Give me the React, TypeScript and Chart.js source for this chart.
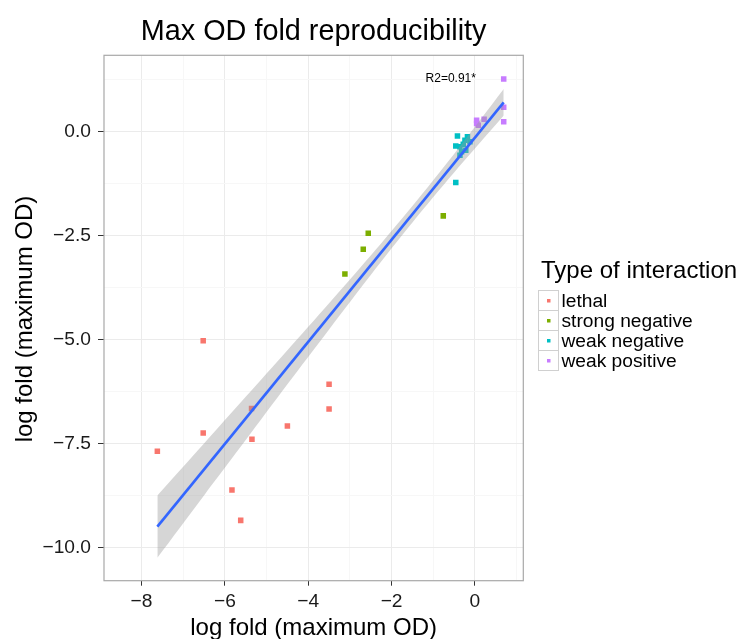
import React, { useEffect, useRef } from 'react';
import { Chart, registerables } from 'chart.js';

Chart.register(...registerables);

const FONT = '"Liberation Sans", Arial, Helvetica, sans-serif';

const chartTitle = 'Max OD fold reproducibility';
const xAxisTitle = 'log fold (maximum OD)';
const yAxisTitle = 'log fold (maximum OD)';
const legendTitle = 'Type of interaction';
const annotationText = 'R2=0.91*';
const annotationX = -0.58;
const annotationY = 1.27;

const categories = ['lethal', 'strong negative', 'weak negative', 'weak positive'];
const categoryColors = ['#F8766D', '#7CAE00', '#00BFC4', '#C77CFF'];

const lethalX = [-6.52, -3.5, -3.5, -5.36, -6.52, -4.5, -5.35, -7.62, -5.83, -5.62];
const lethalY = [-5.02, -6.07, -6.66, -6.65, -7.24, -7.07, -7.39, -7.68, -8.61, -9.34];

const strongNegX = [-2.56, -2.68, -3.12, -0.76];
const strongNegY = [-2.44, -2.82, -3.42, -2.02];

const weakNegX = [-0.42, -0.18, -0.46, -0.36, -0.28, -0.24, -0.32, -0.22, -0.36, -0.12, -0.46];
const weakNegY = [-0.1, -0.12, -0.34, -0.36, -0.3, -0.2, -0.48, -0.44, -0.56, -0.24, -1.22];

const weakPosX = [0.69, 0.69, 0.69, 0.04, 0.04, 0.08, 0.22];
const weakPosY = [1.27, 0.59, 0.24, 0.28, 0.2, 0.16, 0.3];

const fitX = [-7.62, 0.69];
const fitY = [-9.49, 0.71];

const bandX = [-7.62, -6.5, -5.5, -4.5, -3.5, -2.5, -1.5, -0.5, 0.69];
const bandUpper = [-8.74, -7.49, -6.37, -5.25, -4.12, -2.97, -1.78, -0.53, 1.03];
const bandLower = [-10.24, -8.74, -7.41, -6.07, -4.75, -3.44, -2.18, -0.98, 0.39];

const xMajorTicks = [-8, -6, -4, -2, 0];
const xMinorTicks = [-7, -5, -3, -1, 1];
const yMajorTicks = [-10, -7.5, -5, -2.5, 0];
const yMinorTicks = [-8.75, -6.25, -3.75, -1.25, 1.25];

const xMin = -8.9;
const xMax = 1.16;
const yMin = -10.79;
const yMax = 1.84;

const pts = (xs: number[], ys: number[]) => xs.map((x, i) => ({ x, y: ys[i] }));

const fmtMinus = (s: string) => s.replace('-', '\u2212');

const decorPlugin = {
  id: 'decor',
  afterDraw(chart: any) {
    const { ctx, chartArea: a } = chart;
    ctx.save();
    // panel border
    ctx.strokeStyle = '#A8A8A8';
    ctx.lineWidth = 1.2;
    ctx.strokeRect(a.left, a.top, a.right - a.left, a.bottom - a.top);

    ctx.fillStyle = '#000';
    // title
    ctx.font = `28.8px ${FONT}`;
    ctx.textAlign = 'center';
    ctx.textBaseline = 'alphabetic';
    ctx.fillText(chartTitle, (a.left + a.right) / 2, 40);

    // x axis title
    ctx.font = `24px ${FONT}`;
    ctx.fillText(xAxisTitle, (a.left + a.right) / 2, 634.5);

    // y axis title
    ctx.save();
    ctx.translate(32, (a.top + a.bottom) / 2 + 1);
    ctx.rotate(-Math.PI / 2);
    ctx.fillText(yAxisTitle, 0, 0);
    ctx.restore();

    // annotation
    const sx = chart.scales.x;
    const sy = chart.scales.y;
    ctx.font = `12px ${FONT}`;
    ctx.textBaseline = 'middle';
    ctx.fillText(annotationText, sx.getPixelForValue(annotationX), sy.getPixelForValue(annotationY));

    // legend
    ctx.textAlign = 'left';
    ctx.textBaseline = 'alphabetic';
    ctx.font = `24px ${FONT}`;
    ctx.fillText(legendTitle, 541, 277.7);
    const keyX = 538;
    const keyY = 290;
    const keySize = 20;
    categories.forEach((c, i) => {
      const y0 = keyY + i * keySize;
      ctx.fillStyle = '#FFFFFF';
      ctx.fillRect(keyX, y0, keySize, keySize);
      ctx.strokeStyle = '#D0D0D0';
      ctx.lineWidth = 1;
      ctx.strokeRect(keyX + 0.5, y0 + 0.5, keySize, keySize);
      ctx.fillStyle = categoryColors[i];
      ctx.fillRect(keyX + keySize / 2 - 1.5 + 0.5, y0 + keySize / 2 - 1.5 + 0.5, 3.5, 3.5);
      ctx.fillStyle = '#000';
      ctx.font = `19.2px ${FONT}`;
      ctx.fillText(c, 561.5, y0 + 16.7);
    });
    ctx.restore();
  },
};

export default function App() {
  const ref = useRef<HTMLCanvasElement | null>(null);

  useEffect(() => {
    if (!ref.current) return;
    const pointSets = [
      pts(lethalX, lethalY),
      pts(strongNegX, strongNegY),
      pts(weakNegX, weakNegY),
      pts(weakPosX, weakPosY),
    ];
    const gridColor = (ctx: any) => {
      const v = ctx.tick ? ctx.tick.value : null;
      const majors = ctx.scale.axis === 'x' ? xMajorTicks : yMajorTicks;
      return v !== null && majors.includes(v) ? '#EBEBEB' : '#F7F7F7';
    };
    const tickColor = (ctx: any) => {
      const v = ctx.tick ? ctx.tick.value : null;
      const majors = ctx.scale.axis === 'x' ? xMajorTicks : yMajorTicks;
      return v !== null && majors.includes(v) ? '#333333' : 'rgba(0,0,0,0)';
    };
    const chart = new Chart(ref.current, {
      type: 'scatter',
      data: {
        datasets: [
          {
            type: 'line',
            label: 'fit',
            data: pts(fitX, fitY),
            borderColor: '#3366FF',
            borderWidth: 2.6,
            pointRadius: 0,
            fill: false,
            order: 0,
          } as any,
          {
            type: 'line',
            label: 'band upper',
            data: pts(bandX, bandUpper),
            borderWidth: 0,
            borderColor: 'rgba(0,0,0,0)',
            backgroundColor: 'rgba(153,153,153,0.4)',
            pointRadius: 0,
            fill: '+1',
            tension: 0.3,
            order: 1,
          } as any,
          {
            type: 'line',
            label: 'band lower',
            data: pts(bandX, bandLower),
            borderWidth: 0,
            borderColor: 'rgba(0,0,0,0)',
            pointRadius: 0,
            fill: false,
            tension: 0.3,
            order: 1,
          } as any,
          ...categories.map((c, i) => ({
            label: c,
            data: pointSets[i],
            pointStyle: 'rect',
            pointRadius: 3.9,
            pointBorderWidth: 0,
            borderWidth: 0,
            backgroundColor: categoryColors[i],
            pointBackgroundColor: categoryColors[i],
            order: 2,
          })),
        ],
      },
      options: {
        responsive: false,
        animation: false,
        events: [],
        layout: { padding: { top: 55.3, right: 747 - 523.3, left: 0, bottom: 0 } },
        plugins: {
          legend: { display: false },
          tooltip: { enabled: false },
          title: { display: false },
        },
        scales: {
          x: {
            type: 'linear',
            min: xMin,
            max: xMax,
            afterBuildTicks: (scale: any) => {
              scale.ticks = [...xMajorTicks, ...xMinorTicks].sort((a, b) => a - b).map((v) => ({ value: v }));
            },
            afterFit: (scale: any) => {
              scale.height = 639 - 580.7;
            },
            ticks: {
              autoSkip: false,
              maxRotation: 0,
              padding: 4,
              color: '#1A1A1A',
              font: { family: FONT, size: 19.2 },
              callback: (v: any) => (xMajorTicks.includes(Number(v)) ? fmtMinus(String(v)) : ''),
            },
            grid: { color: gridColor, tickColor, tickLength: 5, lineWidth: 1 },
            border: { display: false },
          },
          y: {
            type: 'linear',
            min: yMin,
            max: yMax,
            afterBuildTicks: (scale: any) => {
              scale.ticks = [...yMajorTicks, ...yMinorTicks].sort((a, b) => a - b).map((v) => ({ value: v }));
            },
            afterFit: (scale: any) => {
              scale.width = 104;
            },
            ticks: {
              autoSkip: false,
              padding: 7,
              color: '#1A1A1A',
              font: { family: FONT, size: 19.2 },
              callback: (v: any) => (yMajorTicks.includes(Number(v)) ? fmtMinus(Number(v).toFixed(1)) : ''),
            },
            grid: { color: gridColor, tickColor, tickLength: 6, lineWidth: 1 },
            border: { display: false },
          },
        },
      } as any,
      plugins: [decorPlugin],
    });
    return () => chart.destroy();
  }, []);

  return (
    <div style={{ position: 'absolute', left: 0, top: 0, width: 747, height: 639, background: '#fff' }}>
      <canvas ref={ref} width={747} height={639} style={{ display: 'block', width: 747, height: 639 }} />
    </div>
  );
}
